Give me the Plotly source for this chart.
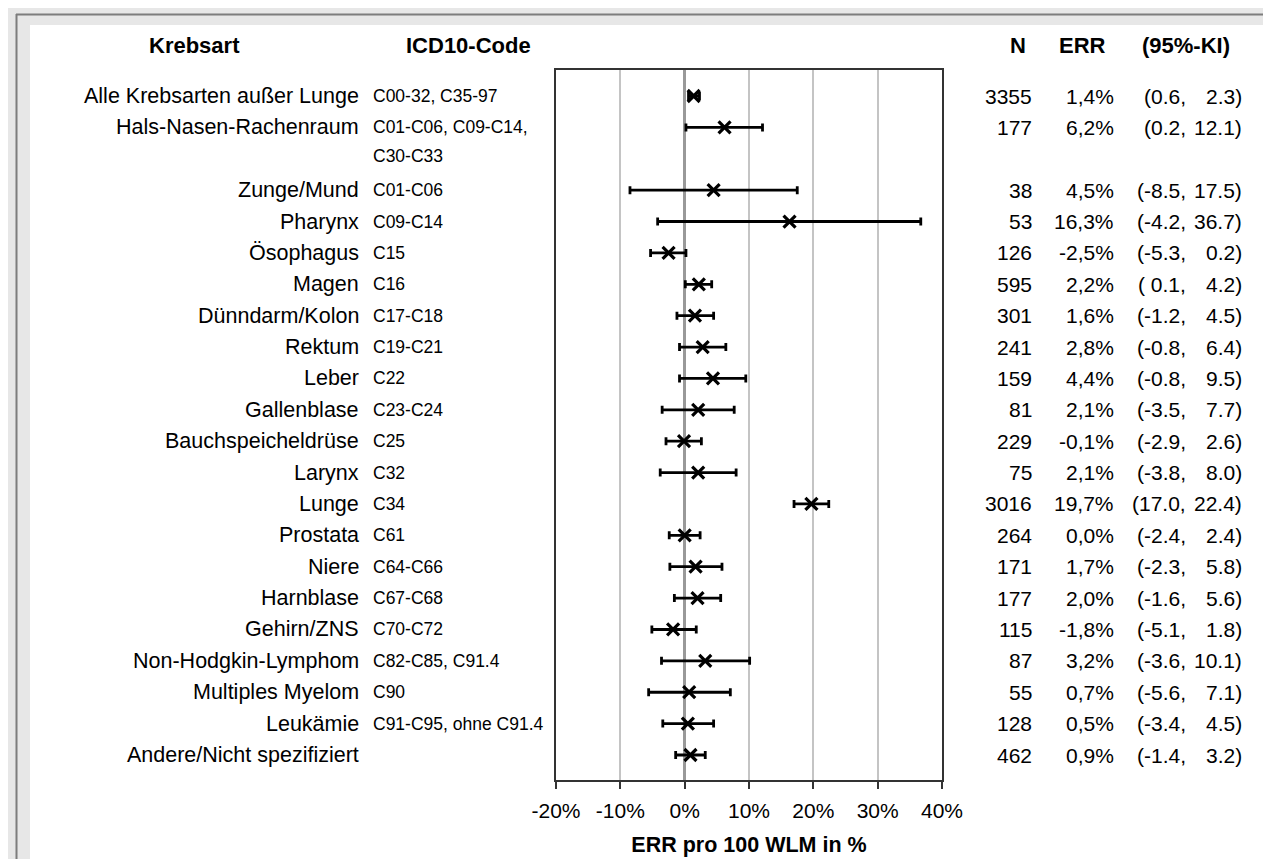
import plotly.graph_objects as go

# ---------------- data ----------------
names = [
    "Alle Krebsarten außer Lunge", "Hals-Nasen-Rachenraum", "Zunge/Mund", "Pharynx",
    "Ösophagus", "Magen", "Dünndarm/Kolon", "Rektum", "Leber", "Gallenblase",
    "Bauchspeicheldrüse", "Larynx", "Lunge", "Prostata", "Niere", "Harnblase",
    "Gehirn/ZNS", "Non-Hodgkin-Lymphom", "Multiples Myelom", "Leukämie",
    "Andere/Nicht spezifiziert",
]
codes = [
    "C00-32, C35-97", "C01-C06, C09-C14,\nC30-C33", "C01-C06", "C09-C14",
    "C15", "C16", "C17-C18", "C19-C21", "C22", "C23-C24",
    "C25", "C32", "C34", "C61", "C64-C66", "C67-C68",
    "C70-C72", "C82-C85, C91.4", "C90", "C91-C95, ohne C91.4",
    "",
]
n_cases = [3355, 177, 38, 53, 126, 595, 301, 241, 159, 81, 229, 75, 3016, 264,
           171, 177, 115, 87, 55, 128, 462]
err = [1.4, 6.2, 4.5, 16.3, -2.5, 2.2, 1.6, 2.8, 4.4, 2.1, -0.1, 2.1, 19.7, 0.0,
       1.7, 2.0, -1.8, 3.2, 0.7, 0.5, 0.9]
ci_lo = [0.6, 0.2, -8.5, -4.2, -5.3, 0.1, -1.2, -0.8, -0.8, -3.5, -2.9, -3.8, 17.0,
         -2.4, -2.3, -1.6, -5.1, -3.6, -5.6, -3.4, -1.4]
ci_hi = [2.3, 12.1, 17.5, 36.7, 0.2, 4.2, 4.5, 6.4, 9.5, 7.7, 2.6, 8.0, 22.4,
         2.4, 5.8, 5.6, 1.8, 10.1, 7.1, 4.5, 3.2]
x_ticks = [-20, -10, 0, 10, 20, 30, 40]
headers = ["Krebsart", "ICD10-Code", "N", "ERR", "(95%-KI)"]

# ---------------- layout helpers ----------------
W, H = 1271, 859
PL, PR, PT, PB = 548, 934, 62, 772   # plot-area box in pixels


def px(xp):
    return (xp - PL) / (PR - PL)


def py(yp):
    return (PB - yp) / (PB - PT)


# row slots (a two-line code takes two slots)
pos = []
k = 0
for c in codes:
    pos.append(k)
    k += 1 + c.count("\n")
n_slots = k

FONT = "Liberation Sans, Arial, sans-serif"

fig = go.Figure()
fig.add_trace(go.Scatter(
    x=err, y=pos, mode="markers",
    marker=dict(symbol="x-thin", size=12, color="black",
                line=dict(width=3.2, color="black")),
    error_x=dict(type="data", symmetric=False,
                 array=[h - e for h, e in zip(ci_hi, err)],
                 arrayminus=[e - l for e, l in zip(err, ci_lo)],
                 color="black", thickness=2.8, width=4),
    hoverinfo="skip", showlegend=False,
))

ann = []


def t(x, y, text, anchor, size=21, bold=False, yref="y"):
    ann.append(dict(x=x, y=y, xref="paper", yref=yref, text=(f"<b>{text}</b>" if bold else text),
                    showarrow=False, xanchor=anchor, yanchor="middle",
                    font=dict(family=FONT, size=size, color="black")))


for i, (nm, cd, n, e, lo, hi) in enumerate(zip(names, codes, n_cases, err, ci_lo, ci_hi)):
    y = pos[i]
    t(px(353), y, nm, "right", 21.5)
    for j, line in enumerate(cd.split("\n")):
        if line:
            t(px(363), y + 0.9 * j, line, "left", 17.5)
    t(px(1026), y, str(n), "right")
    t(px(1108), y, f"{e:.1f}".replace(".", ",") + "%", "right")
    lo_txt = f"( {lo:.1f}," if (0 < lo < 1 and i > 1) else f"({lo:.1f},"
    t(px(1180), y, lo_txt, "right")
    t(px(1236), y, f"{hi:.1f})", "right")

hy = py(37)
for h, xc in zip(headers, [186, 460, 1010, 1074, 1178]):
    t(px(xc), hy, h, "center", 22, bold=True, yref="paper")

shapes = [
    dict(type="rect", xref="paper", yref="paper", x0=px(22), x1=px(1265), y0=py(17), y1=py(H),
         fillcolor="white", line=dict(width=0), layer="below"),
    dict(type="line", xref="paper", yref="paper", x0=px(8.5), x1=px(8.5), y0=py(6), y1=py(H),
         line=dict(color="#7d7d7d", width=2), layer="below"),
    dict(type="line", xref="paper", yref="paper", x0=px(8), x1=px(W), y0=py(6.5), y1=py(6.5),
         line=dict(color="#7d7d7d", width=2), layer="below"),
]

top_pad = (88 - PT) / ((747 - 88) / (n_slots - 1))
bot_pad = (PB - 747) / ((747 - 88) / (n_slots - 1))

fig.update_layout(
    width=W, height=H, autosize=False,
    margin=dict(l=PL, r=W - PR, t=PT, b=H - PB, pad=0),
    paper_bgcolor="#e7e7e7", plot_bgcolor="white",
    font=dict(family=FONT, color="black"),
    annotations=ann, shapes=shapes,
    xaxis=dict(range=[-20, 40], tickvals=x_ticks, ticktext=[f"{v}%" for v in x_ticks],
               showgrid=True, gridcolor="#c4c4c4", gridwidth=1.5,
               zeroline=True, zerolinecolor="#999999", zerolinewidth=2.5,
               showline=True, mirror=True, linecolor="#333333", linewidth=1.6,
               ticks="outside", ticklen=7, tickwidth=1.6, tickcolor="#333333",
               tickfont=dict(family=FONT, size=21, color="black"), ticklabelstandoff=4,
               title=dict(text="<b>ERR pro 100 WLM in %</b>", standoff=16,
                          font=dict(family=FONT, size=21.5, color="black")),
               fixedrange=True),
    yaxis=dict(range=[n_slots - 1 + bot_pad, -top_pad], showticklabels=False, showgrid=False,
               zeroline=False, showline=True, mirror=True, linecolor="#333333", linewidth=1.6,
               ticks="", fixedrange=True),
)

fig.write_html("out.html")
